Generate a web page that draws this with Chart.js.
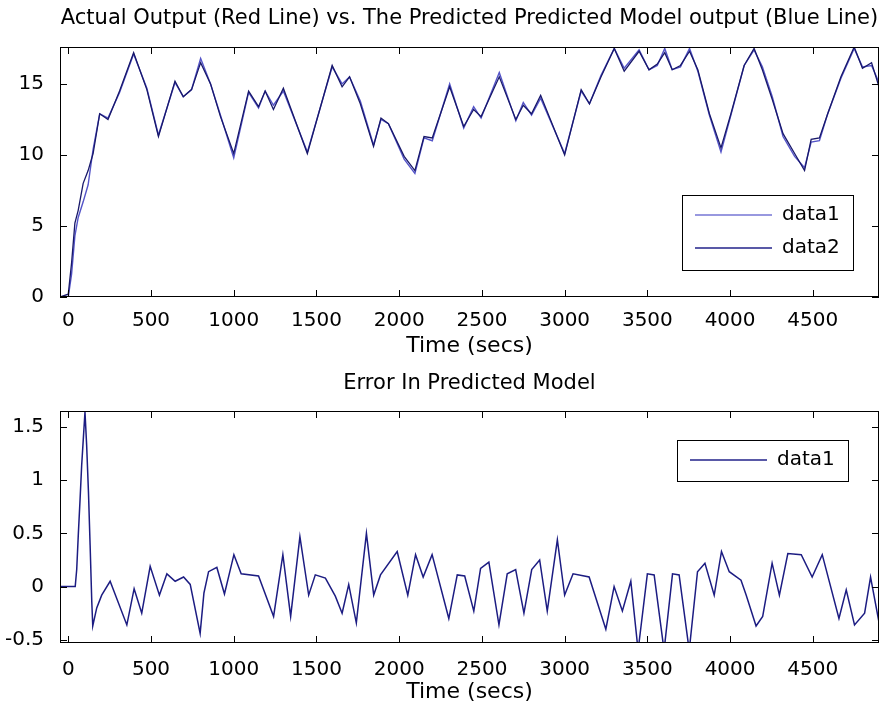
<!DOCTYPE html>
<html lang="en">
<head>
<meta charset="UTF-8">
<title>Actual vs Predicted Model Output</title>
<script src="https://cdn.jsdelivr.net/npm/chart.js"></script>
<style>
  body { margin: 0; background: #fff; }
  #wrap { position: relative; width: 893px; height: 708px; }
  canvas { position: absolute; left: 0; }
</style>
</head>
<body>
<div id="wrap">
  <canvas id="topChart" width="893" height="360" style="top:0"></canvas>
  <canvas id="errChart" width="893" height="348" style="top:360px"></canvas>
</div>
<script>
// top plot: both outputs share the same time stamps
const topTimes = [-50, 0, 20, 40, 60, 90, 120, 150, 190, 240, 310, 395, 475, 545, 645, 695, 745, 800, 860, 920,
  1000, 1090, 1150, 1190, 1240, 1300, 1445, 1595, 1655, 1700, 1765, 1845, 1890, 1935, 2030, 2095, 2150, 2200,
  2305, 2390, 2450, 2495, 2605, 2705, 2750, 2800, 2855, 3000, 3100, 3150, 3220, 3300, 3360, 3450, 3510, 3560,
  3605, 3650, 3700, 3755, 3805, 3875, 3945, 4005, 4085, 4145, 4195, 4255, 4320, 4390, 4450, 4490, 4540, 4590,
  4670, 4750, 4800, 4855, 4900];
const data1Values = [0, 0, 1.6, 4.3, 5.6, 6.7, 7.9, 10.4, 12.9, 12.6, 14.4, 17.1, 14.7, 11.4, 15.1, 14.1, 14.6, 16.8, 15.0, 12.8,
  9.8, 14.4, 13.3, 14.5, 13.5, 14.5, 10.2, 16.2, 15.0, 15.5, 13.8, 10.7, 12.5, 12.2, 9.7, 8.7, 11.2, 11.0,
  15.0, 11.9, 13.4, 12.6, 15.8, 12.4, 13.7, 12.8, 14.0, 10.1, 14.5, 13.6, 15.6, 17.5, 16.1, 17.4, 16.0, 16.3,
  17.5, 16.0, 16.2, 17.5, 15.9, 12.8, 10.2, 12.8, 16.3, 17.4, 16.2, 14.1, 11.3, 9.9, 9.1, 10.9, 11.0, 12.9,
  15.4, 17.5, 16.2, 16.3, 15.1];
const data2Values = [0, 0.2, 2.4, 5.2, 6.1, 8.0, 8.9, 10.1, 12.9, 12.5, 14.5, 17.2, 14.6, 11.3, 15.2, 14.1, 14.6, 16.5, 15.0, 12.7,
  10.1, 14.5, 13.4, 14.5, 13.2, 14.7, 10.1, 16.3, 14.8, 15.5, 13.6, 10.6, 12.6, 12.2, 9.9, 8.9, 11.3, 11.2,
  14.8, 12.0, 13.2, 12.7, 15.5, 12.5, 13.5, 12.9, 14.2, 10.0, 14.6, 13.6, 15.5, 17.5, 15.9, 17.3, 16.0, 16.4,
  17.2, 16.0, 16.3, 17.3, 16.0, 12.9, 10.5, 12.9, 16.3, 17.5, 16.0, 13.9, 11.5, 10.1, 8.9, 11.1, 11.2, 12.9,
  15.5, 17.6, 16.1, 16.5, 14.8];

// bottom plot: error in predicted model
const errTimes = [-50, 42, 51, 61, 71, 81, 91, 101, 111, 122, 132, 142, 148, 172, 202, 253, 354, 398, 444, 495,
  551, 596, 646, 697, 737, 797, 820, 848, 898, 944, 1001, 1045, 1150, 1241, 1297, 1344, 1400, 1453, 1493,
  1554, 1614, 1655, 1695, 1741, 1802, 1846, 1887, 1988, 2052, 2099, 2145, 2199, 2300, 2351, 2396, 2451,
  2492, 2542, 2603, 2653, 2704, 2754, 2801, 2849, 2895, 2956, 3000, 3051, 3148, 3249, 3299, 3349, 3400,
  3444, 3500, 3541, 3601, 3652, 3692, 3753, 3803, 3848, 3904, 3948, 3995, 4066, 4097, 4157, 4197, 4254,
  4298, 4349, 4430, 4496, 4557, 4658, 4702, 4752, 4813, 4849, 4904];
const errValues = [0, 0, 0.16, 0.5, 0.81, 1.14, 1.39, 1.64, 1.33, 0.89, 0.39, -0.14, -0.37, -0.2, -0.08, 0.05, -0.36, -0.02, -0.25, 0.19,
  -0.08, 0.12, 0.05, 0.09, 0.02, -0.44, -0.06, 0.14, 0.18, -0.07, 0.3, 0.12, 0.1, -0.28, 0.3, -0.28, 0.47, -0.08, 0.11,
  0.08, -0.09, -0.25, 0.02, -0.34, 0.5, -0.08, 0.11, 0.33, -0.08, 0.3, 0.09, 0.3, -0.3, 0.11, 0.1, -0.23,
  0.17, 0.23, -0.36, 0.12, 0.16, -0.25, 0.16, 0.25, -0.23, 0.44, -0.08, 0.12, 0.09, -0.4, 0, -0.23, 0.05,
  -0.6, 0.12, 0.11, -0.6, 0.12, 0.11, -0.6, 0.14, 0.22, -0.08, 0.33, 0.14, 0.06, -0.08, -0.37, -0.28, 0.22,
  -0.08, 0.31, 0.3, 0.09, 0.3, -0.3, -0.03, -0.36, -0.25, 0.09, -0.37];

const xTickValues = [0, 500, 1000, 1500, 2000, 2500, 3000, 3500, 4000, 4500];
const topYTicks = [0, 5, 10, 15];
const errYTicks = [-0.5, 0, 0.5, 1, 1.5];

const FONT = "'DejaVu Sans', sans-serif";

function pts(xs, ys) {
  return xs.map((x, i) => ({ x: x, y: ys[i] }));
}

// matlab look: closed box, inward ticks on all sides, title over the axes, boxed legend
const matlabAxes = {
  id: 'matlabAxes',
  afterDraw(chart, args, opts) {
    const { ctx, chartArea: a, scales } = chart;
    ctx.save();
    ctx.strokeStyle = '#000';
    ctx.lineWidth = 1;
    ctx.strokeRect(a.left + 0.5, a.top + 0.5, a.right - a.left - 1, a.bottom - a.top - 1);
    ctx.beginPath();
    scales.x.ticks.forEach(t => {
      const px = Math.round(scales.x.getPixelForValue(t.value)) + 0.5;
      ctx.moveTo(px, a.bottom); ctx.lineTo(px, a.bottom - 7);
      ctx.moveTo(px, a.top); ctx.lineTo(px, a.top + 7);
    });
    scales.y.ticks.forEach(t => {
      const py = Math.round(scales.y.getPixelForValue(t.value)) + 0.5;
      ctx.moveTo(a.left, py); ctx.lineTo(a.left + 7, py);
      ctx.moveTo(a.right, py); ctx.lineTo(a.right - 7, py);
    });
    ctx.stroke();

    ctx.fillStyle = '#000';
    ctx.font = opts.titleSize + 'px ' + FONT;
    ctx.textAlign = 'center';
    ctx.textBaseline = 'middle';
    ctx.fillText(opts.title, (a.left + a.right) / 2, opts.titleY);

    const lg = opts.legend;
    ctx.fillStyle = '#fff';
    ctx.fillRect(lg.x, lg.y, lg.w, lg.h);
    ctx.strokeRect(lg.x + 0.5, lg.y + 0.5, lg.w, lg.h);
    ctx.font = '20px ' + FONT;
    ctx.textAlign = 'left';
    chart.data.datasets.forEach((ds, i) => {
      const ly = lg.rowY[i];
      ctx.strokeStyle = ds.legendColor || ds.borderColor;
      ctx.lineWidth = 1.3;
      ctx.beginPath();
      ctx.moveTo(lg.x + 13, ly); ctx.lineTo(lg.x + 90, ly);
      ctx.stroke();
      ctx.fillStyle = '#000';
      ctx.fillText(ds.label, lg.x + 100, ly);
    });
    ctx.restore();
  }
};

function xAxis(axisHeight, labelPad, titlePadBottom) {
  return {
    type: 'linear', min: -50, max: 4900,
    grid: { display: false },
    border: { display: false },
    afterBuildTicks: s => { s.ticks = xTickValues.map(v => ({ value: v })); },
    afterFit: s => { s.height = axisHeight; },
    ticks: { color: '#000', font: { family: FONT, size: 20 }, padding: labelPad, maxRotation: 0, autoSkip: false,
      callback: v => String(v) },
    title: { display: true, text: 'Time (secs)', color: '#000', font: { family: FONT, size: 22 },
      padding: { top: 0, bottom: titlePadBottom } }
  };
}

function yAxis(min, max, tickList) {
  return {
    type: 'linear', min: min, max: max,
    grid: { display: false },
    border: { display: false },
    afterBuildTicks: s => { s.ticks = tickList.map(v => ({ value: v })); },
    afterFit: s => { s.width = 60; },
    ticks: { color: '#000', font: { family: FONT, size: 20 }, padding: 8,
      callback: v => String(Math.round(v * 10) / 10) }
  };
}

new Chart(document.getElementById('topChart'), {
  type: 'line',
  data: {
    datasets: [
      { label: 'data1', data: pts(topTimes, data1Values), borderColor: '#5454c8', legendColor: '#7676d4',
        borderWidth: 1.4, pointRadius: 0, tension: 0, order: 2 },
      { label: 'data2', data: pts(topTimes, data2Values), borderColor: '#18186a', legendColor: '#22228a',
        borderWidth: 1.3, pointRadius: 0, tension: 0, order: 1 }
    ]
  },
  options: {
    responsive: false, animation: false, devicePixelRatio: 1,
    layout: { padding: { top: 47, right: 14, left: 0, bottom: 0 } },
    scales: { x: xAxis(63, 4, 1), y: yAxis(0, 17.6, topYTicks) },
    plugins: {
      legend: { display: false }, tooltip: { enabled: false },
      matlabAxes: {
        title: 'Actual Output (Red Line) vs. The Predicted Predicted Model output (Blue Line)',
        titleSize: 21, titleY: 19,
        legend: { x: 682, y: 195, w: 171, h: 75, rowY: [215, 248] }
      }
    }
  },
  plugins: [matlabAxes]
});

new Chart(document.getElementById('errChart'), {
  type: 'line',
  data: {
    datasets: [
      { label: 'data1', data: pts(errTimes, errValues), borderColor: '#1c1c82', legendColor: '#22228a',
        borderWidth: 1.5, pointRadius: 0, tension: 0 }
    ]
  },
  options: {
    responsive: false, animation: false, devicePixelRatio: 1,
    layout: { padding: { top: 51, right: 14, left: 0, bottom: 0 } },
    scales: { x: xAxis(65, 7, 3), y: yAxis(-0.53, 1.65, errYTicks) },
    plugins: {
      legend: { display: false }, tooltip: { enabled: false },
      matlabAxes: {
        title: 'Error In Predicted Model',
        titleSize: 21, titleY: 24,
        legend: { x: 677, y: 80, w: 171, h: 41, rowY: [100] }
      }
    }
  },
  plugins: [matlabAxes]
});
</script>
</body>
</html>
